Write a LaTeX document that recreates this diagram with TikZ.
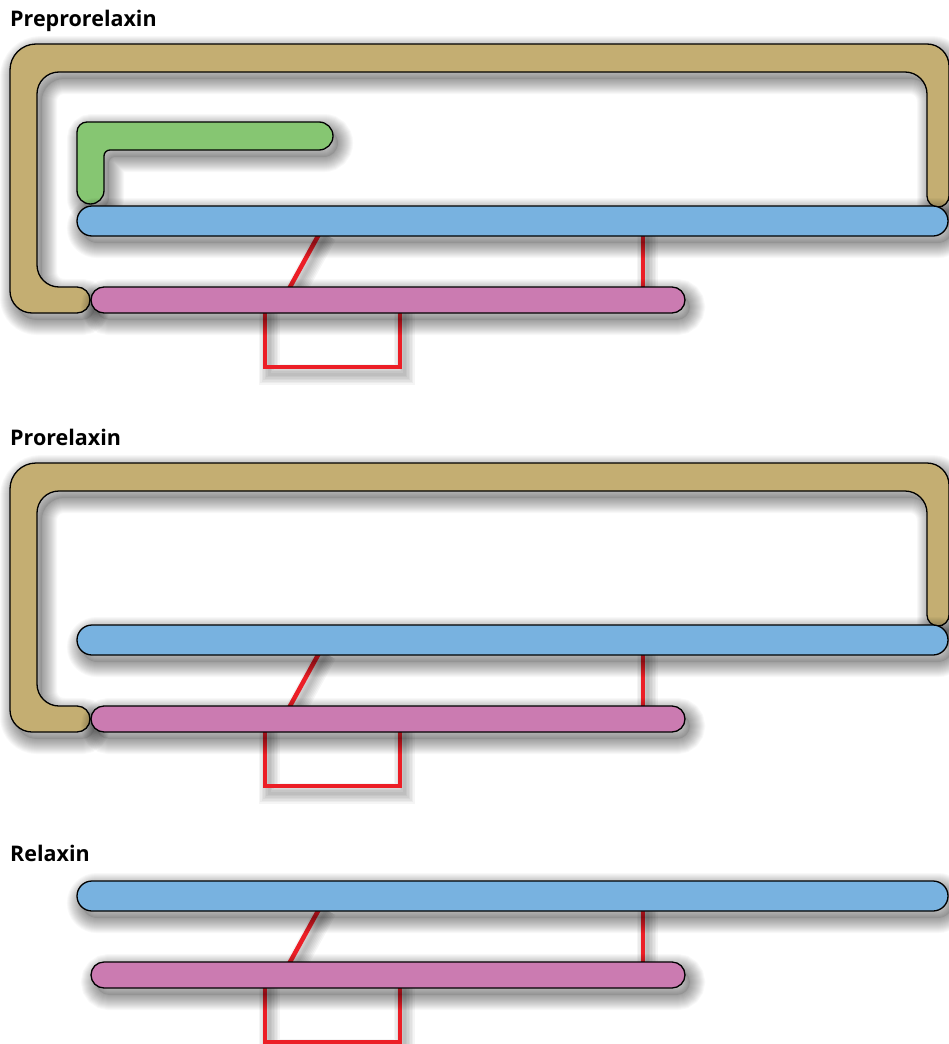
\documentclass[tikz,border=0pt]{standalone}
\usepackage{fontspec}
\newfontfamily\titlefont{Open Sans}
\definecolor{tanC}{RGB}{196,174,114}
\definecolor{greenC}{RGB}{134,198,114}
\definecolor{blueC}{RGB}{120,178,224}
\definecolor{pinkC}{RGB}{203,123,177}
\definecolor{redC}{RGB}{236,30,38}
% shadowed closed shape: #1 path, #2 fill colour
\newcommand\shadowfill[1]{%
  \begin{scope}[shift={(5,7)}]
    \fill[black,opacity=0.08] #1;
    \foreach \w in {2,4,...,30} {\draw[black,opacity=0.028,line width=\w pt] #1;}
  \end{scope}}
\newcommand\moleculeshape[2]{\shadowfill{#1}\draw[chain,fill=#2] #1;}
\newcommand\bond[1]{%
  \begin{scope}[shift={(4,7)}]
    \foreach \w in {3,6,...,21} {\draw[black,opacity=0.04,line width=\w pt] #1;}
  \end{scope}
  \draw[bondline] #1;}
\def\tanP{(50,313) [rounded corners=22] -- (10,313) [rounded corners=26] -- (10,44) [rounded corners=22] -- (949,44) [rounded corners=11] -- (949,207) -- (927,207) [rounded corners=22] -- (927,72) -- (37,72) -- (37,287) [rounded corners=13] -- (90,287) -- (90,313) [sharp corners] -- cycle}
\def\greenP{(200,122) [rounded corners=10] -- (77,122) [rounded corners=13.5] -- (77,204) -- (104,204) [rounded corners=6] -- (104,150) [rounded corners=14] -- (333,150) -- (333,122) [sharp corners] -- cycle}
\def\blueP{[rounded corners=15] (77,206) rectangle (948,236)}
\def\pinkP{[rounded corners=13] (91,287) rectangle (685,313)}
\newcommand\chains{%
  \bond{(322.4,228) -- (286.2,294)}
  \bond{(643,228) -- (643,294)}
  \bond{(265,305) -- (265,367) -- (400,367) -- (400,305)}
  \moleculeshape{\blueP}{blueC}
  \moleculeshape{\pinkP}{pinkC}}
\begin{document}
\begin{tikzpicture}[x=1pt,y=-1pt,
  chain/.style={draw=black,line width=1.3pt},
  bondline/.style={draw=redC,line width=4.5pt},
  title/.style={anchor=base west,inner sep=0pt,font=\titlefont\bfseries\fontsize{21.5}{26}\selectfont}]
\useasboundingbox (0,0) rectangle (949,1044);
\fill[white] (0,0) rectangle (949,1044);
% Preprorelaxin
\node[title] (t1) at (10,26) {Preprorelaxin};
\moleculeshape{\tanP}{tanC}
\moleculeshape{\greenP}{greenC}
\chains
% Prorelaxin
\node[title] (t2) at (10,445) {Prorelaxin};
\begin{scope}[shift={(0,419)}]
  \moleculeshape{\tanP}{tanC}
  \chains
\end{scope}
% Relaxin
\node[title] (t3) at (10,861) {Relaxin};
\begin{scope}[shift={(0,675)}]
  \chains
\end{scope}
\end{tikzpicture}
\end{document}
